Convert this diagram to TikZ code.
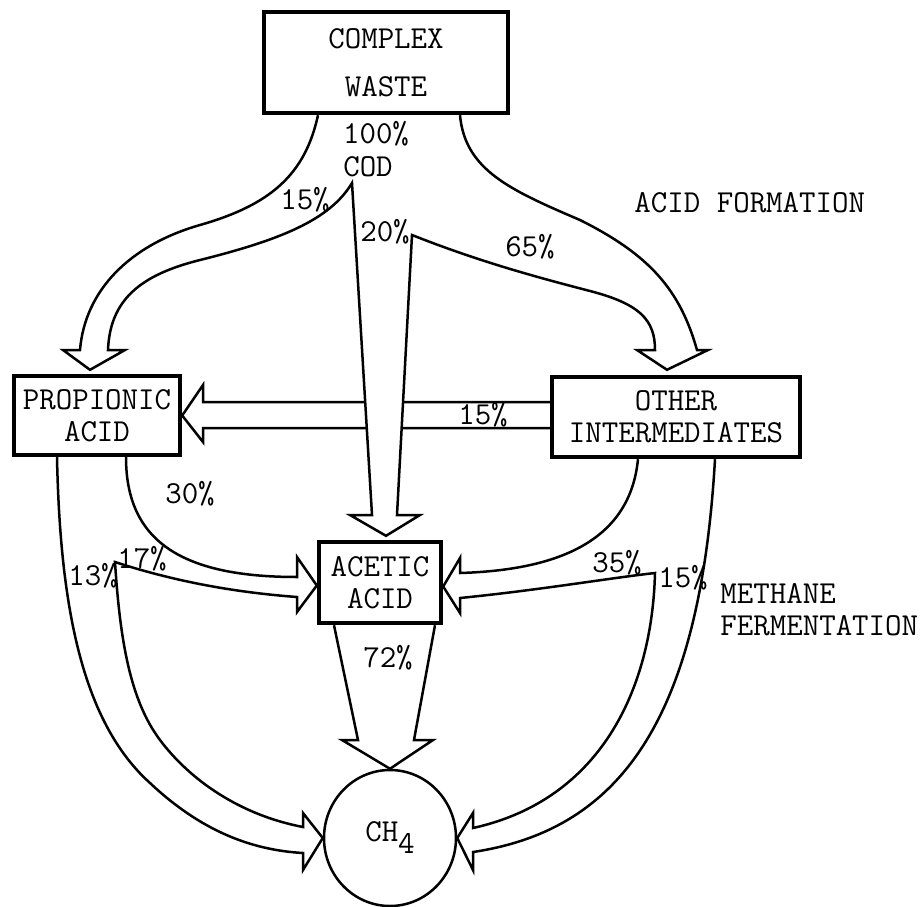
\documentclass[tikz,border=0pt]{standalone}
\usepackage{fontspec}
\usetikzlibrary{positioning,calc,backgrounds,shapes.geometric}

\begin{document}
\begin{tikzpicture}[
  x=0.5pt, y=-0.5pt,
  font=\ttfamily\fontsize{16}{16}\selectfont,
  every node/.style={inner sep=0pt},
  box/.style={draw, line width=2.2pt, align=center},
  flow/.style={draw, line width=1.25pt, line join=miter, fill=white},
  pct/.style={anchor=center}
]
\useasboundingbox (0,0) rectangle (922,906);

% Boxes
\node[box, minimum width=122pt, minimum height=50.5pt] (waste) at (386,62.5) {COMPLEX\\[8pt]WASTE};
\node[box, minimum width=83pt, minimum height=39.5pt] (propionic) at (97,415.5) {PROPIONIC\\ACID};
\node[box, minimum width=124pt, minimum height=40pt] (other) at (676,417) {OTHER\\INTERMEDIATES};
\node[box, minimum width=61pt, minimum height=40.5pt] (acetic) at (380,582.5) {ACETIC\\ACID};
\node[ellipse, draw, line width=1.25pt, minimum width=66pt, minimum height=68pt] (methane) at (390,838) {CH\raisebox{-6pt}{4}};

% Split points of the flows
\coordinate (cod) at (352,183);
\coordinate (split) at (412,235);
\coordinate (lsplit) at (115,562);
\coordinate (rsplit) at (655,573);

\begin{scope}[on background layer]
% Other intermediates -> propionic acid
\draw[flow] ([yshift=7.5pt]other.west) -- (203,402) -- (203,385) -- (propionic.east)
  -- (203,442) -- (203,428) -- ([yshift=-5.5pt]other.west);

% Acid formation from the complex waste
\draw[flow] ([xshift=-34pt]waste.south)
  .. controls (305,175) and (270,205) .. (200,225)
  .. controls (130,245) and (85,290) .. (80,350)
  -- (63,350) -- ([xshift=-3.5pt,yshift=2pt]propionic.north) -- (125,350) -- (108,350)
  .. controls (110,300) and (140,275) .. (200,260)
  .. controls (280,240) and (330,220) .. (cod)
  -- (372,515) -- (350,515) -- ([xshift=3pt,yshift=2pt]acetic.north) -- (420,515) -- (397,515)
  -- (split)
  .. controls (480,262) and (540,278) .. (590,291)
  .. controls (640,304) and (655,320) .. (655,350)
  -- (637,350) -- ([xshift=-4.5pt,yshift=2.5pt]other.north) -- (708,350) -- (697,350)
  .. controls (680,290) and (650,255) .. (580,220)
  .. controls (510,190) and (465,170) .. ([xshift=37pt]waste.south);

% Propionic acid -> acetic acid and methane
\draw[flow] ([xshift=-20pt]propionic.south)
  .. controls (60,600) and (80,720) .. (150,783)
  .. controls (200,830) and (250,850) .. (303,853)
  -- (303,870) -- (methane.west) -- (303,813) -- (303,827)
  .. controls (240,815) and (190,780) .. (160,740)
  .. controls (130,700) and (120,640) .. (lsplit)
  .. controls (170,580) and (230,592) .. (297,597)
  -- (297,612) -- ([yshift=-1.5pt]acetic.west) -- (297,557) -- (297,577)
  .. controls (180,577) and (126,540) .. ([xshift=14.5pt]propionic.south);

% Other intermediates -> acetic acid and methane
\draw[flow] ([xshift=-19pt]other.south)
  .. controls (630,540) and (560,570) .. (460,573)
  -- (460,558) -- ([yshift=-2pt]acetic.east) -- (460,613) -- (460,598)
  .. controls (540,590) and (610,578) .. (rsplit)
  .. controls (652,690) and (600,800) .. (473,828)
  -- (473,813) -- (methane.east) -- (473,870) -- (473,852)
  .. controls (620,830) and (700,720) .. ([xshift=19.5pt]other.south);

% Acetic acid -> methane
\draw[flow] ([xshift=-23pt]acetic.south) -- (358,740) -- (342,740) -- (methane.north)
  -- (433,740) -- (414,740) -- ([xshift=27.5pt]acetic.south);
\end{scope}

% Labels
\node[pct] (total) at (376,134) {100\%};
\node[pct] (codlbl) at (368,167) {COD};
\node[pct] (topprop) at (305,200) {15\%};
\node[pct] (topacet) at (385,232) {20\%};
\node[pct] (topother) at (530,247) {65\%};
\node[anchor=west] (acidform) at (634,203) {ACID FORMATION};
\node[pct] (otherprop) at (483,415) {15\%};
\node[pct] (propacet) at (190,494) {30\%};
\node[pct] (propacetb) at (142,559) {17\%};
\node[pct] (propmeth) at (93,576) {13\%};
\node[pct] (otheracet) at (617,563) {35\%};
\node[pct] (othermeth) at (683,578) {15\%};
\node[pct] (acetmeth) at (388,658) {72\%};
\node[anchor=west, align=left] (methferm) at (720,610) {METHANE\\FERMENTATION};

\end{tikzpicture}
\end{document}
